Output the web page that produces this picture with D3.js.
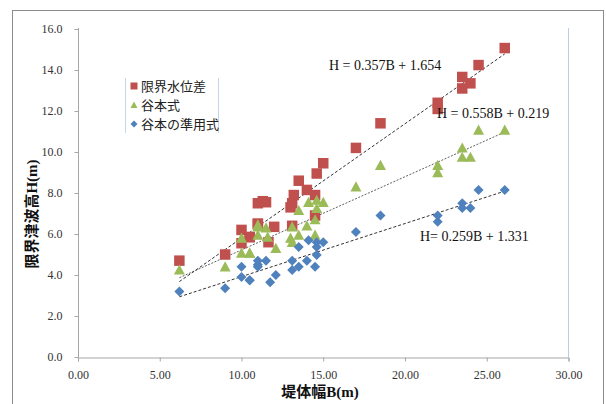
<!DOCTYPE html>
<html><head><meta charset="utf-8">
<script src="https://cdn.jsdelivr.net/npm/d3@7"></script>
<style>body{margin:0;background:#fff}svg{display:block}</style>
</head><body>
<svg id="c" width="606" height="404"></svg>
<script>
// Data
const seriesNames = ["限界水位差", "谷本式", "谷本の準用式"];
const redB = [6.2, 9.0, 10.0, 10.0, 10.5, 10.5, 11.0, 11.0, 11.0, 11.5, 11.3, 11.65, 12.0, 13.1, 13.1, 13.2, 13.0, 13.5, 14.0, 14.5, 14.5, 14.6, 15.0, 17.0, 18.5, 22.0, 22.0, 23.5, 23.5, 24.0, 24.5, 26.1];
const redH = [4.7, 5.0, 6.2, 5.55, 5.85, 5.85, 7.5, 6.5, 6.5, 7.55, 7.6, 5.6, 6.35, 6.4, 7.5, 7.9, 7.3, 8.6, 8.15, 7.9, 6.9, 8.95, 9.45, 10.2, 11.4, 12.1, 12.4, 13.1, 13.66, 13.35, 14.24, 15.07];
const greenB = [6.2, 9.0, 10.0, 10.0, 10.5, 10.5, 11.0, 11.0, 11.0, 11.5, 11.6, 12.1, 13.0, 13.1, 13.1, 13.5, 13.5, 14.0, 14.1, 14.5, 14.5, 14.6, 14.6, 15.0, 17.0, 18.5, 22.0, 22.0, 23.5, 23.5, 24.0, 24.5, 26.1];
const greenH = [4.25, 4.4, 5.8, 5.07, 5.07, 5.07, 6.45, 6.35, 5.95, 6.3, 5.85, 5.3, 5.8, 5.6, 6.35, 5.95, 7.15, 6.4, 7.55, 6.7, 5.95, 7.65, 7.25, 7.55, 8.3, 9.35, 9.0, 9.35, 9.75, 10.2, 9.75, 11.07, 11.07];
const blueB = [6.2, 9.0, 10.0, 10.0, 10.5, 10.5, 11.0, 11.0, 11.0, 11.5, 11.75, 12.1, 13.1, 13.1, 13.5, 13.5, 14.0, 14.1, 14.5, 14.6, 14.6, 14.6, 15.0, 17.0, 18.5, 22.0, 22.0, 23.5, 23.5, 24.0, 24.5, 26.1];
const blueH = [3.2, 3.35, 4.4, 3.9, 3.75, 3.75, 4.7, 4.5, 4.4, 4.7, 3.65, 4.0, 4.7, 4.25, 4.4, 5.37, 4.7, 5.7, 4.4, 5.6, 5.37, 4.97, 5.6, 6.1, 6.9, 6.6, 6.9, 7.27, 7.5, 7.27, 8.15, 8.15];
const fits = [
  {slope: 0.357, icpt: 1.654, label: "H = 0.357B + 1.654"},
  {slope: 0.558, icpt: 0.219, label: "H = 0.558B + 0.219"},
  {slope: 0.259, icpt: 1.331, label: "H= 0.259B + 1.331"}
];
const fitRange = [6.2, 26.1];
const xTicks = [0, 5, 10, 15, 20, 25, 30];
const yTicks = [0, 2, 4, 6, 8, 10, 12, 14, 16];

const colors = ["#C0504D", "#9BBB59", "#4F81BD"];
const serif = "'Liberation Serif','Times New Roman','Noto Sans CJK JP',serif";

const svg = d3.select("#c");
const x = d3.scaleLinear().domain([0, 30]).range([78, 568.5]);
const y = d3.scaleLinear().domain([0, 16]).range([357, 29]);

// custom marker shapes (size = full width in px)
const sq = {draw(c, s){ const r = s / 2; c.rect(-r, -r, s, s); }};
const tri = {draw(c, s){ const r = s / 2; c.moveTo(0, -r); c.lineTo(r, r * 0.85); c.lineTo(-r, r * 0.85); c.closePath(); }};
const dia = {draw(c, s){ const r = s / 2; c.moveTo(0, -r); c.lineTo(r, 0); c.lineTo(0, r); c.lineTo(-r, 0); c.closePath(); }};

// outer border
svg.append("rect").attr("x", 12.5).attr("y", 10.5).attr("width", 591).attr("height", 420)
  .attr("fill", "none").attr("stroke", "#8c8c8c").attr("stroke-width", 1);

// right plot border (light blue)
svg.append("line").attr("x1", 568.5).attr("x2", 568.5).attr("y1", 28).attr("y2", 357)
  .attr("stroke", "#b9cde5").attr("stroke-width", 1);

// axes
const yAxis = d3.axisLeft(y).tickValues(yTicks).tickFormat(d3.format(".1f")).tickSize(4).tickPadding(12);
const gy = svg.append("g").attr("transform", "translate(78.5,0)").call(yAxis);
const xAxis = d3.axisBottom(x).tickValues(xTicks).tickFormat(d3.format(".2f")).tickSize(4).tickPadding(9);
const gx = svg.append("g").attr("transform", "translate(0,357.5)").call(xAxis);
[gx, gy].forEach(g => {
  g.select(".domain").attr("stroke", "#a6a6a6");
  g.selectAll(".tick line").attr("stroke", "#a6a6a6");
  g.selectAll(".tick text").attr("font-family", serif).attr("font-size", 12).attr("fill", "#333");
});
gy.select(".domain").attr("d", "M0,28V357");

// axis titles
svg.append("text").attr("x", 320).attr("y", 397).attr("text-anchor", "middle")
  .attr("font-family", serif).attr("font-size", 15).attr("font-weight", "bold").attr("fill", "#111")
  .text("堤体幅B(m)");
svg.append("text").attr("transform", "translate(37,214) rotate(-90)").attr("text-anchor", "middle")
  .attr("font-family", serif).attr("font-size", 15).attr("font-weight", "bold").attr("fill", "#111")
  .text("限界津波高H(m)");

// fit lines
const dashes = ["2,1.5", "3,2", "3,2"];
const lineColors = ["#606060", "#333", "#333"];
fits.forEach((f, i) => {
  svg.append("line")
    .attr("x1", x(fitRange[0])).attr("y1", y(f.slope * fitRange[0] + f.icpt))
    .attr("x2", x(fitRange[1])).attr("y2", y(f.slope * fitRange[1] + f.icpt))
    .attr("stroke", lineColors[i]).attr("stroke-width", 1).attr("stroke-dasharray", dashes[i]);
});

// markers
const sym = [sq, tri, dia];
const sizes = [10.5, 11, 10];
const series = [[redB, redH], [greenB, greenH], [blueB, blueH]];
series.forEach((s, i) => {
  const pts = s[0].map((b, k) => [b, s[1][k]]);
  svg.append("g").selectAll("path").data(pts).join("path")
    .attr("transform", d => `translate(${x(d[0])},${y(d[1])})`)
    .attr("d", d3.symbol().type(sym[i]).size(sizes[i]))
    .attr("fill", colors[i]);
});

// equation labels
const eqPos = [[329, 70], [437, 118], [420, 241]];
fits.forEach((f, i) => {
  svg.append("text").attr("x", eqPos[i][0]).attr("y", eqPos[i][1])
    .attr("font-family", serif).attr("font-size", 14).attr("fill", "#111").text(f.label);
});

// legend
const lg = svg.append("g");
lg.append("line").attr("x1", 125.5).attr("x2", 125.5).attr("y1", 78).attr("y2", 133).attr("stroke", "#c5d5ea");
lg.append("line").attr("x1", 218.5).attr("x2", 218.5).attr("y1", 78).attr("y2", 133).attr("stroke", "#c5d5ea");
seriesNames.forEach((n, i) => {
  const yy = 86 + i * 19;
  lg.append("path").attr("transform", `translate(134,${yy})`)
    .attr("d", d3.symbol().type(sym[i]).size([7, 7, 7][i])).attr("fill", colors[i]);
  lg.append("text").attr("x", 141).attr("y", yy + 5).attr("font-family", serif)
    .attr("font-size", 13).attr("fill", "#222").text(n);
});
</script>
</body></html>
